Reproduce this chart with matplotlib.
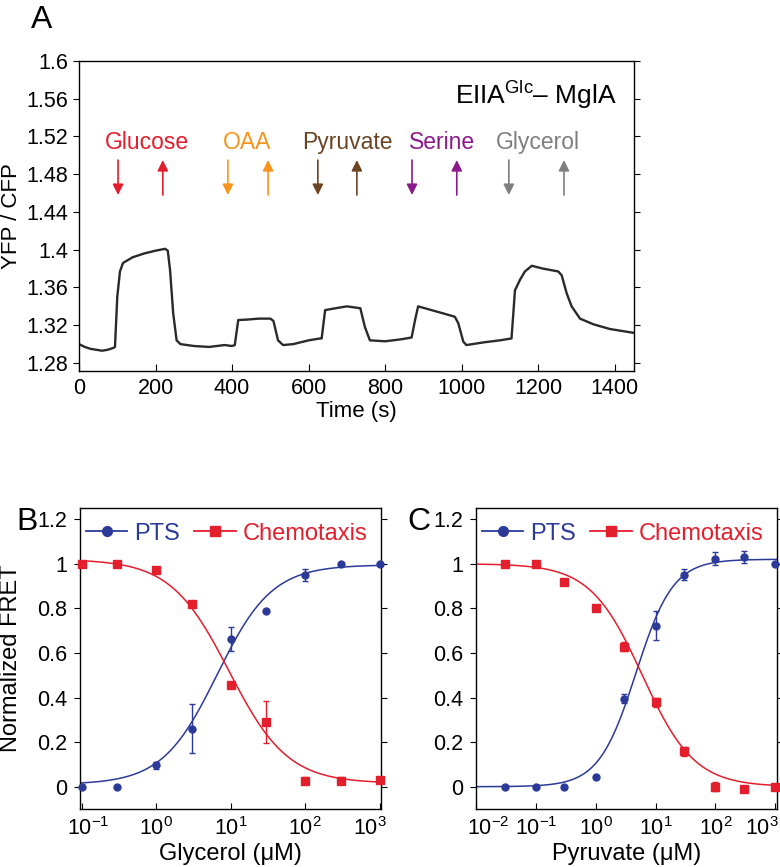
import numpy as np
import matplotlib
matplotlib.use('Agg')
import matplotlib.pyplot as plt
from matplotlib.lines import Line2D
from matplotlib.transforms import ScaledTranslation
from matplotlib.ticker import FixedLocator, FuncFormatter, NullLocator

plt.rcParams['font.family'] = ['Liberation Sans', 'DejaVu Sans']
plt.rcParams['mathtext.fontset'] = 'custom'
plt.rcParams['mathtext.rm'] = 'Liberation Sans'
plt.rcParams['mathtext.it'] = 'Liberation Sans:italic'
plt.rcParams['mathtext.bf'] = 'Liberation Sans:bold'
plt.rcParams['mathtext.sf'] = 'Liberation Sans'

# ---------------- Panel A data ----------------
time_s = [0, 15, 30, 45, 60, 75, 90, 94, 100, 107, 115, 140, 170, 200, 225, 232,
          238, 246, 255, 265, 300, 340, 380, 400, 407, 416, 440, 470, 500, 508,
          520, 533, 560, 600, 630, 634, 643, 670, 700, 735, 747, 760, 800, 840,
          869, 878, 886, 930, 982, 991, 1004, 1012, 1060, 1100, 1130, 1139, 1152,
          1165, 1183, 1212, 1252, 1261, 1274, 1287, 1309, 1344, 1387, 1448]
ratio = [1.300, 1.297, 1.295, 1.294, 1.293, 1.294, 1.296, 1.297, 1.350, 1.377,
         1.386, 1.392, 1.396, 1.399, 1.401, 1.399, 1.378, 1.333, 1.304, 1.300,
         1.298, 1.297, 1.299, 1.298, 1.299, 1.3255, 1.326, 1.327, 1.327, 1.3245,
         1.304, 1.299, 1.300, 1.304, 1.306, 1.306, 1.336, 1.338, 1.340, 1.338,
         1.318, 1.304, 1.303, 1.305, 1.307, 1.3255, 1.340, 1.335, 1.329, 1.322,
         1.3026, 1.299, 1.302, 1.304, 1.306, 1.357, 1.368, 1.377, 1.383, 1.380,
         1.377, 1.373, 1.354, 1.340, 1.327, 1.321, 1.316, 1.312]

stimuli = ['Glucose', 'OAA', 'Pyruvate', 'Serine', 'Glycerol']
stim_colors = ['#e31e2d', '#f7941d', '#6b4423', '#8b1a8b', '#7f7f7f']
stim_label_t = [178, 439, 700, 948, 1199]
stim_add_t = [102, 389, 624, 870, 1123]
stim_remove_t = [219, 494, 726, 987, 1267]

# ---------------- Panel B data (glycerol) ----------------
gly_conc = [0.1, 0.3, 1, 3, 10, 30, 100, 300, 1000]
gly_pts = [0.0, 0.0, 0.096, 0.26, 0.663, 0.79, 0.949, 0.997, 0.997]
gly_pts_err = [0, 0, 0.017, 0.109, 0.055, 0, 0.028, 0, 0]
gly_chemo = [0.997, 0.997, 0.974, 0.82, 0.457, 0.29, 0.027, 0.027, 0.029]
gly_chemo_err = [0, 0, 0, 0, 0, 0.095, 0.015, 0.015, 0]
# Hill fit parameters: (bottom, top, K, n)
gly_pts_fit = (0.01, 0.995, 6.55, 1.18)
gly_chemo_fit = (0.015, 1.02, 9.5, 1.105)

# ---------------- Panel C data (pyruvate) ----------------
pyr_conc = [0.03, 0.1, 0.3, 1, 3, 10, 30, 100, 300, 1000]
pyr_pts = [-0.003, -0.003, -0.003, 0.042, 0.394, 0.722, 0.95, 1.023, 1.03, 0.998]
pyr_pts_err = [0, 0, 0, 0, 0.02, 0.066, 0.025, 0.03, 0.025, 0]
pyr_chemo = [1.0, 1.0, 0.92, 0.80, 0.627, 0.379, 0.158, 0.0, -0.012, -0.003]
pyr_chemo_err = [0, 0, 0, 0, 0.02, 0.02, 0.02, 0.02, 0, 0]
pyr_pts_fit = (0.0, 1.02, 4.7, 1.4)
pyr_chemo_fit = (0.0, 1.0, 6.0, 1.0)

BLUE = '#2b3a98'
RED = '#e31e2d'
TRACE = '#2a2a2a'

fig = plt.figure(figsize=(7.8, 8.67), dpi=100)

# ---------------- Panel A ----------------
axA = fig.add_axes([79/780, 1-371/867, 555/780, 310/867])
axA.plot(time_s, ratio, color=TRACE, lw=1.7)
axA.set_xlim(0, 1450)
axA.set_ylim(1.2715, 1.6)
axA.xaxis.set_major_locator(FixedLocator([0, 200, 400, 600, 800, 1000, 1200, 1400]))
yt = [1.28, 1.32, 1.36, 1.40, 1.44, 1.48, 1.52, 1.56, 1.60]
axA.yaxis.set_major_locator(FixedLocator(yt))
axA.yaxis.set_major_formatter(FuncFormatter(lambda v, p: ('%.2f' % v).rstrip('0').rstrip('.')))
axA.tick_params(axis='x', direction='in', length=5, labelsize=15.5, pad=5)
axA.tick_params(axis='y', direction='out', length=4, labelsize=15.5, pad=4)
axA.tick_params(axis='y', which='both', right=True)
axA.set_xlabel('Time (s)', fontsize=16)
axA.set_ylabel('YFP / CFP', fontsize=16)
axA.xaxis.set_label_coords(0.5, -(411-371)/310)
axA.yaxis.set_label_coords(-(79-12)/555, 0.5)
axA.xaxis.label.set_va('center')
axA.yaxis.label.set_va('center')
for sp in axA.spines.values():
    sp.set_linewidth(1.0)

for name, c, tl, ta, tr in zip(stimuli, stim_colors, stim_label_t, stim_add_t, stim_remove_t):
    axA.text(tl, 1.514, name, color=c, fontsize=16.5, ha='center', va='center')
    axA.annotate('', xy=(ta, 1.458), xytext=(ta, 1.495),
                 arrowprops=dict(arrowstyle='-|>', color=c, lw=1.2, mutation_scale=16,
                                 shrinkA=0, shrinkB=0))
    axA.annotate('', xy=(tr, 1.495), xytext=(tr, 1.458),
                 arrowprops=dict(arrowstyle='-|>', color=c, lw=1.2, mutation_scale=16,
                                 shrinkA=0, shrinkB=0))
axA.text(1405, 1.564, r'EIIA$^{\mathregular{Glc}}$– MglA', fontsize=19, ha='right', va='center')
fig.text(42/780, 1-20/867, 'A', fontsize=23, ha='center', va='center')


def hill_up(x, p):
    b, t, K, n = p
    return b + (t - b) * x**n / (x**n + K**n)


def hill_down(x, p):
    b, t, K, n = p
    return b + (t - b) / (1 + (x / K)**n)


def log_fmt(v, pos):
    e = int(round(np.log10(v)))
    return r'$\mathregular{10^{%d}}$' % e


def dose_panel(rect, conc, pts, pts_err, chemo, chemo_err, fit_pts, fit_chemo,
               xlim, xticks, xlabel, ylabel, letter, letter_xy, edge_shift):
    ax = fig.add_axes(rect)
    ax.set_xscale('log')
    xf = np.logspace(np.log10(xlim[0]), np.log10(xlim[1]), 400)
    ax.plot(xf, hill_up(xf, fit_pts), color=BLUE, lw=1.1)
    ax.plot(xf, hill_down(xf, fit_chemo), color=RED, lw=1.1)
    pe = np.array(pts_err); ce = np.array(chemo_err)
    ax.errorbar(conc, pts, yerr=pe, fmt='none', ecolor=BLUE, elinewidth=1.0, capsize=2.5, capthick=1.0)
    ax.errorbar(conc, chemo, yerr=ce, fmt='none', ecolor=RED, elinewidth=1.0, capsize=2.5, capthick=1.0)
    ax.plot(conc, pts, 'o', color=BLUE, ms=5, clip_on=False, zorder=5)
    ax.plot(conc, chemo, 's', color=RED, ms=5.5, clip_on=False, zorder=5)
    ax.set_xlim(*xlim)
    ax.set_ylim(-0.1, 1.25)
    ax.xaxis.set_major_locator(FixedLocator(xticks))
    ax.xaxis.set_minor_locator(NullLocator())
    ax.xaxis.set_major_formatter(FuncFormatter(log_fmt))
    ax.yaxis.set_major_locator(FixedLocator([0, 0.2, 0.4, 0.6, 0.8, 1.0, 1.2]))
    ax.yaxis.set_major_formatter(FuncFormatter(lambda v, p: '%g' % round(v, 2)))
    ax.tick_params(axis='x', direction='in', length=4, labelsize=15.5, pad=6)
    ax.tick_params(axis='y', direction='out', length=4, labelsize=15.5, pad=5)
    ax.tick_params(axis='y', right=True)
    ax.set_xlabel(xlabel, fontsize=17)
    ax.xaxis.set_label_coords(0.5, -(854-809)/301)
    ax.xaxis.label.set_va('center')
    if ylabel:
        ax.set_ylabel(ylabel, fontsize=17)
        ax.yaxis.set_label_coords(-(80-11)/301, 0.5)
        ax.yaxis.label.set_va('center')
    for sp in ax.spines.values():
        sp.set_linewidth(1.0)
    # shift outermost tick labels inward as in the reference
    fig.canvas.draw()
    labels = ax.get_xticklabels()
    for lab, dx in ((labels[0], edge_shift[0]), (labels[-1], edge_shift[1])):
        lab.set_transform(lab.get_transform() + ScaledTranslation(dx/100, 0, fig.dpi_scale_trans))
    handles = [Line2D([], [], color=BLUE, marker='o', ms=7, lw=1.3),
               Line2D([], [], color=RED, marker='s', ms=7, lw=1.3)]
    leg = ax.legend(handles, ['PTS', 'Chemotaxis'], loc='center left',
                    bbox_to_anchor=(0.0, 0.915), ncol=2, frameon=False, fontsize=17,
                    handlelength=1.75, handletextpad=0.3, columnspacing=0.6,
                    borderpad=0.25, borderaxespad=0.0)
    for txt, c in zip(leg.get_texts(), [BLUE, RED]):
        txt.set_color(c)
    fig.text(letter_xy[0]/780, 1-letter_xy[1]/867, letter, fontsize=23, ha='center', va='center')
    return ax


dose_panel([80/780, 1-809/867, 301/780, 301/867], gly_conc, gly_pts, gly_pts_err,
           gly_chemo, gly_chemo_err, gly_pts_fit, gly_chemo_fit,
           (10**-1.023, 10**3.015), [0.1, 1, 10, 100, 1000], 'Glycerol (μM)',
           'Normalized FRET', 'B', (27, 522), (7, -10))
dose_panel([476/780, 1-809/867, 301/780, 301/867], pyr_conc, pyr_pts, pyr_pts_err,
           pyr_chemo, pyr_chemo_err, pyr_pts_fit, pyr_chemo_fit,
           (0.01, 10**3.028), [0.01, 0.1, 1, 10, 100, 1000], 'Pyruvate (μM)',
           None, 'C', (419, 522), (12, -13))

fig.savefig('out.png', dpi=100)
